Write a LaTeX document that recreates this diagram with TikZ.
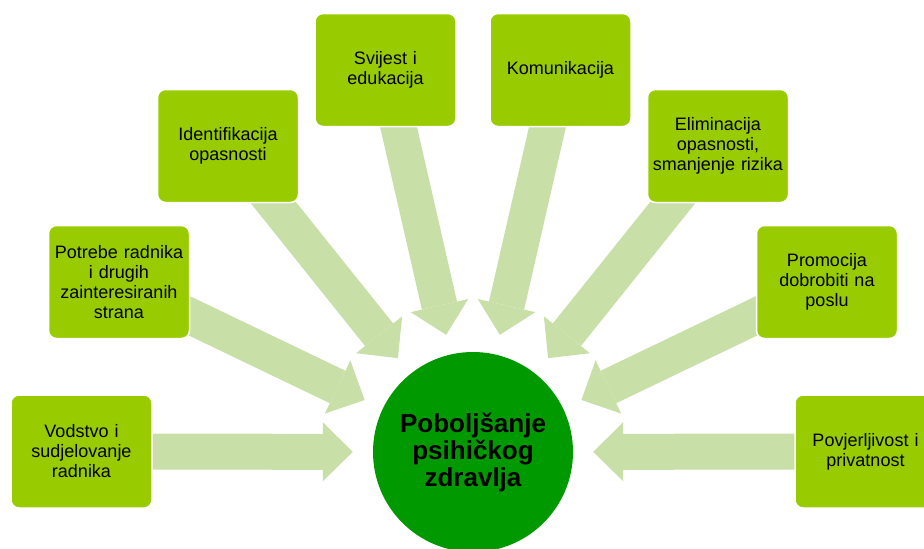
\documentclass[tikz,border=0pt]{standalone}
\usepackage{fontspec}
\setmainfont{Liberation Sans}
\usetikzlibrary{arrows.meta,backgrounds}
\definecolor{boxgreen}{HTML}{99CC00}
\definecolor{hubgreen}{HTML}{009900}
\definecolor{arrowgreen}{HTML}{C8DFA8}
\tikzset{
	topic/.style={fill=boxgreen,draw=white,line width=1.5pt,rounded corners=8pt,minimum width=141pt,minimum height=113pt,text width=134pt,align=center,inner sep=3pt,font=\fontsize{18}{20}\selectfont},
	hub/.style={circle,fill=hubgreen,minimum size=200pt,inner sep=0pt,align=center,font=\fontsize{26}{27}\selectfont\bfseries},
	feed/.style={draw=arrowgreen,line width=36pt,shorten >=20pt,-{Triangle[length=30pt,width=59pt,line width=0pt]}}
}
\begin{document}
\begin{tikzpicture}[x=1pt,y=-1pt]
	\useasboundingbox (0,0) rectangle (924,549);
	\node[hub] (hub) at (473,452) {Poboljšanje\\psihičkog\\zdravlja};
	\node[topic] (vodstvo) at (81.5,451.5) {Vodstvo i\\sudjelovanje\\radnika};
	\node[topic] (potrebe) at (119,282) {Potrebe radnika\\i drugih\\zainteresiranih\\strana};
	\node[topic] (ident) at (228,146) {Identifikacija\\opasnosti};
	\node[topic] (svijest) at (385.5,70) {Svijest i\\edukacija};
	\node[topic] (komun) at (560.5,70) {Komunikacija};
	\node[topic] (elim) at (718,146) {Eliminacija\\opasnosti,\\smanjenje rizika};
	\node[topic] (promo) at (827,282) {Promocija\\dobrobiti na\\poslu};
	\node[topic] (povjer) at (865.5,451.5) {Povjerljivost i\\privatnost};
	% block arrows behind the boxes
	\begin{scope}[on background layer]
		\draw[feed] (vodstvo.center) -- (hub);
		\draw[feed] (potrebe.center) -- (hub);
		\draw[feed] (ident.center) -- (hub);
		\draw[feed] (svijest.center) -- (hub);
		\draw[feed] (komun.center) -- (hub);
		\draw[feed] (elim.center) -- (hub);
		\draw[feed] (promo.center) -- (hub);
		\draw[feed] (povjer.center) -- (hub);
	\end{scope}
\end{tikzpicture}
\end{document}
